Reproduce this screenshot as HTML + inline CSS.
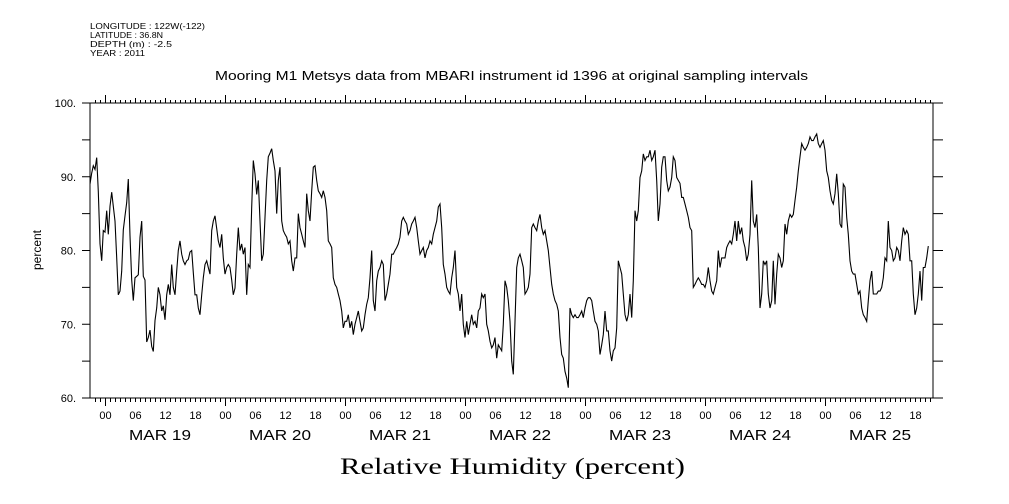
<!DOCTYPE html>
<html><head><meta charset="utf-8"><style>
body{margin:0;background:#fff;}
svg{display:block;font-family:"Liberation Sans",sans-serif;}
</style></head><body>
<svg width="1009" height="504" viewBox="0 0 1009 504">
<g font-size="8.5" fill="#000">
<text x="90" y="29" textLength="115" lengthAdjust="spacingAndGlyphs">LONGITUDE : 122W(-122)</text>
<text x="90" y="38" textLength="73" lengthAdjust="spacingAndGlyphs">LATITUDE : 36.8N</text>
<text x="90" y="47" textLength="82" lengthAdjust="spacingAndGlyphs">DEPTH (m) : -2.5</text>
<text x="90" y="56" textLength="55" lengthAdjust="spacingAndGlyphs">YEAR : 2011</text>
</g>
<text x="215" y="80" font-size="12.5" textLength="593" lengthAdjust="spacingAndGlyphs">Mooring M1 Metsys data from MBARI instrument id 1396 at original sampling intervals</text>
<text transform="translate(41,250) rotate(-90)" font-size="12" text-anchor="middle">percent</text>
<text x="340" y="474" font-size="23" font-family="Liberation Serif, serif" textLength="345" lengthAdjust="spacingAndGlyphs">Relative Humidity (percent)</text>
<g id="axes"></g>
<polyline id="line" fill="none" stroke="#000" stroke-width="1.1"></polyline>
</svg>
<script>
const yTicks=[60,65,70,75,80,85,90,95,100];
const yLabels=["60.","","70.","","80.","","90.","","100."];
const hourLabels=["00","06","12","18"];
const dayLabels=["MAR 19","MAR 20","MAR 21","MAR 22","MAR 23","MAR 24","MAR 25"];
const startHour=-3; const stepHours=1/3;
const values=[89.0,90.5,91.5,91,92.6,88,80.9,78.6,82.7,82.5,85.4,82.2,86,87.9,86,84,79,74,74.5,77.2,82.8,84.7,86.5,89.7,82,76,73.2,76.3,76.5,76.7,81.8,84,76.5,76,67.6,68.2,69.2,67,66.3,70.5,72.2,75,74,71.8,72.5,70.6,74,75.4,74,78.1,75,74,77.2,80,81.3,79.5,78.6,78.1,78.6,78.8,79.8,80,77,74,74,72.2,71.3,74,76.3,78.1,78.6,77.7,76.8,82.7,84,84.7,83,81.3,80.4,82.2,79,76.8,77.7,78.1,77.7,76,74,74.9,79.5,83.1,80,80.9,79.5,80.4,74,78.1,77.7,85.9,92.2,90.4,87.6,89.5,84,78.6,79.5,84.5,89.5,92.7,93.2,93.8,92.2,90.8,85,89.5,91.3,84,82.7,82.2,81.8,80.9,81.3,78.6,77.2,79,79,85,83.1,82.2,81.3,80.4,
87.7,85.4,84.0,88.1,91.3,91.5,89.5,88.1,87.7,87.2,88.1,87.2,85.4,81.3,80.9,80.4,76.3,75.4,75.0,74.1,73.2,71.8,69.5,70.4,70.4,71.3,69.5,70.4,68.6,70.0,70.9,71.8,70.4,69.1,69.5,71.3,72.7,73.6,76.3,80.0,73.2,71.8,75.9,77.2,77.7,78.6,78.1,73.2,74.1,75.4,76.8,79.5,79.5,80.0,80.4,80.9,81.8,84.0,84.5,84.0,83.6,82.2,82.7,83.6,84.0,84.5,83.1,81.3,79.5,80.0,80.4,79.0,80.0,80.4,81.3,80.9,82.2,83.1,84.0,85.9,86.3,83.1,78.1,76.8,75.0,74.5,74.1,76.3,77.7,80.0,75.0,74.1,71.8,74.1,70.0,68.2,70.4,68.6,70.0,71.3,70.0,70.4,69.5,71.8,72.2,74.1,73.6,74.1,70.0,69.1,67.7,66.8,67.2,68.2,65.4,67.2,66.8,66.4,70.0,75.9,75.0,73.2,70.4,65.0,63.2,70.4,77.7,79.0,79.5,
78.6,77.7,74.1,74.5,75.0,76.8,83.1,83.6,83.1,82.7,84.0,84.9,83.1,82.2,82.7,81.3,80.0,77.7,75.4,74.1,73.2,72.7,71.8,68.2,65.9,65.4,63.6,62.7,61.4,72.2,71.3,70.9,71.3,70.9,70.9,71.3,71.8,70.9,72.2,73.2,73.6,73.6,73.2,71.8,70.4,70.0,69.1,65.9,67.2,68.6,71.8,69.1,69.1,66.4,65.0,66.4,66.8,69.5,78.6,77.7,76.8,74.1,71.3,70.4,71.3,74.1,70.9,75.9,85.4,84.0,85.4,89.9,90.8,93.1,92.2,92.7,92.7,93.6,92.2,92.7,93.6,89.5,84.0,86.3,91.3,92.7,92.7,89.5,88.1,88.6,89.9,92.7,92.2,89.9,89.5,89.1,87.2,87.2,86.3,85.4,84.5,83.1,82.7,75.0,75.4,75.9,76.3,75.9,75.4,75.4,75.0,75.9,77.7,75.9,74.5,74.1,75.0,75.9,80.0,77.7,79.0,79.0,79.0,80.4,80.9,81.3,80.9,82.2,84.0,
81.3,84.0,82.2,83.1,81.3,80.4,78.6,79.5,82.2,89.5,84.0,83.1,84.9,80.4,72.2,74.1,78.6,78.1,78.6,74.1,72.2,73.2,78.6,72.7,76.8,79.5,79.0,77.7,78.6,83.6,82.2,84.0,84.9,84.5,84.9,86.8,88.6,90.8,92.7,94.5,94.0,93.6,94.0,94.5,95.4,94.9,94.9,95.4,95.8,94.5,94.0,94.5,94.9,93.6,90.8,89.9,88.1,86.8,86.3,87.7,90.4,87.7,83.6,83.1,89.0,88.6,84.5,82.2,78.6,77.2,76.8,76.8,75.4,74.1,74.5,72.2,71.3,70.9,70.4,73.2,75.9,77.2,74.1,74.1,74.1,74.5,74.5,75.0,76.3,79.0,78.6,84.0,80.4,80.0,78.6,79.0,80.4,80.0,78.6,81.3,83.1,82.2,82.7,82.2,78.6,78.6,74.1,71.3,72.2,74.1,77.2,73.2,77.7,77.7,79.0,80.6];

const L=90,R=933,T=103,B=398;
const x0=105, pxPerHour=5;
const xScale=h=>x0+h*pxPerHour;
const yScale=v=>T+(100-v)*(B-T)/40;
const NS="http://www.w3.org/2000/svg";
const axes=document.getElementById('axes');
function mk(tag,attrs){const e=document.createElementNS(NS,tag);for(const k in attrs)e.setAttribute(k,attrs[k]);axes.appendChild(e);return e;}
const frame=mk('rect',{x:L,y:T,width:R-L,height:B-T,fill:'none',stroke:'#000','stroke-width':1});


yTicks.forEach((v,i)=>{
  const y=yScale(v);
  const t1=mk('line',{x1:L-8,x2:L,y1:y,y2:y,stroke:'#000'});
  
  
  const t2=mk('line',{x1:R,x2:R+10,y1:y,y2:y,stroke:'#000'});
  
  
  if(yLabels[i]){const tx=mk('text',{x:L-14,y:y+4,'font-size':11,'text-anchor':'end'});tx.textContent=yLabels[i];
  
  }
});
for(let h=-2;h<=165;h++){
  const x=xScale(h)+0.5;
  const hh=((h%24)+24)%24;
  const len=hh===0?8:(hh%6===0?5:3);
  const a=mk('line',{x1:x,x2:x,y1:T,y2:T-len,stroke:'#000'});
  
  
  const b=mk('line',{x1:x,x2:x,y1:B,y2:B+(hh===0?8:4),stroke:'#000'});
  
  
  if(h>=0&&hh%6===0){const t=mk('text',{x:x,y:419,'font-size':11,'text-anchor':'middle'});t.textContent=hourLabels[hh/6];
  
  }
}
dayLabels.forEach((d,i)=>{const t=mk('text',{x:xScale(i*24+11),y:440,'font-size':15,'text-anchor':'middle',textLength:62,lengthAdjust:'spacingAndGlyphs'});t.textContent=d;

});
document.getElementById('line').setAttribute('points',values.map((v,i)=>xScale(startHour+i*stepHours).toFixed(1)+','+yScale(v).toFixed(1)).join(' '));
</script>
</body></html>
